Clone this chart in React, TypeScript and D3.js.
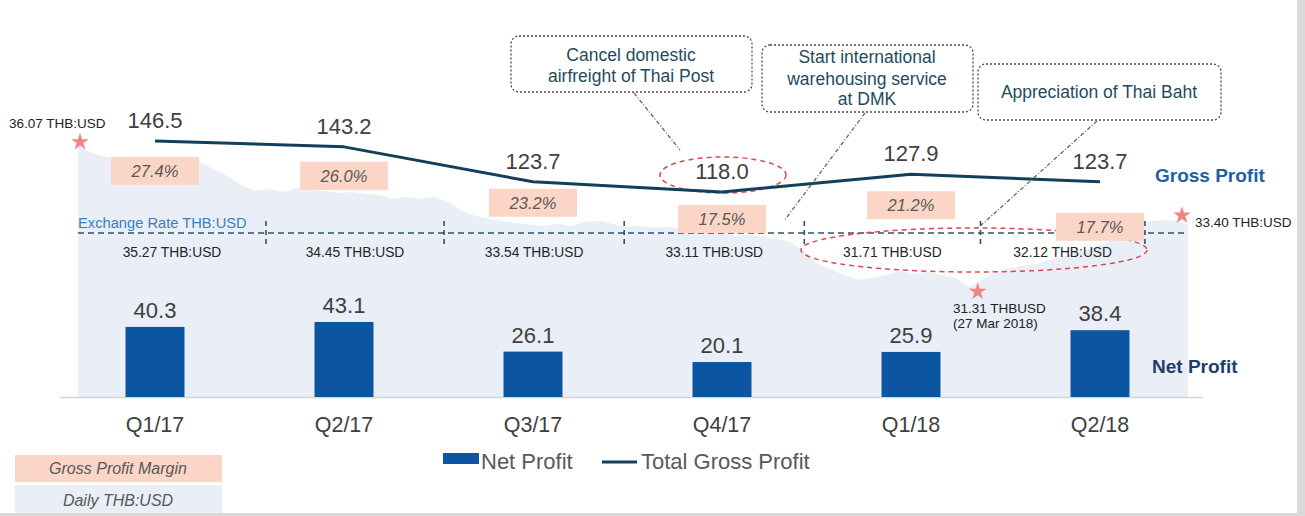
import React from 'react';
import * as d3 from 'd3';

// ---------- DATA ----------
const quarters = ['Q1/17', 'Q2/17', 'Q3/17', 'Q4/17', 'Q1/18', 'Q2/18'];
const netProfit = [40.3, 43.1, 26.1, 20.1, 25.9, 38.4];
const grossProfit = [146.5, 143.2, 123.7, 118.0, 127.9, 123.7];
const grossMargin = ['27.4%', '26.0%', '23.2%', '17.5%', '21.2%', '17.7%'];
const quarterAvgRate = ['35.27 THB:USD', '34.45 THB:USD', '33.54 THB:USD', '33.11 THB:USD', '31.71 THB:USD', '32.12 THB:USD'];

const rateStart = '2016-12-26';
const weeklyRate = [
  36.07, 35.80, 35.67, 35.63, 35.57, 35.63, 35.53, 35.47, 35.57, 35.47,
  35.23, 35.00, 34.69, 34.53, 34.59, 34.49, 34.63, 34.56, 34.53, 34.46,
  34.49, 34.43, 34.39, 34.26, 34.33, 34.26, 34.33, 34.16, 33.86, 33.69,
  33.59, 33.52, 33.45, 33.39, 33.35, 33.42, 33.35, 33.49, 33.52, 33.42,
  33.32, 33.35, 33.29, 33.32, 33.25, 33.18, 33.15, 33.12, 33.02, 33.05,
  32.98, 32.92, 32.81, 32.48, 32.08, 31.88, 31.68, 31.54, 31.61, 31.71,
  31.84, 31.74, 31.81, 31.68, 31.61, 31.31, 31.54, 31.81, 31.94, 32.01,
  32.08, 32.21, 32.34, 32.48, 32.61, 32.78, 33.02, 33.28, 33.49, 33.55,
  33.52, 33.40,
];
const quarterTickDates = ['2017-04-01', '2017-07-01', '2017-10-01', '2018-01-01', '2018-04-01', '2018-06-24'];

const rateMarkDates = ['2016-12-26', '2018-03-27', '2018-07-16'];
const rateMarkValues = [36.07, 31.31, 33.40];
const rateMarkLabels = [['36.07 THB:USD'], ['31.31 THBUSD', '(27 Mar 2018)'], ['33.40 THB:USD']];

const annotationTexts = [
  ['Cancel domestic', 'airfreight of Thai Post'],
  ['Start international', 'warehousing service', 'at DMK'],
  ['Appreciation of Thai Baht'],
];

const legendItems = ['Net Profit', 'Total Gross Profit'];
const sideLegend = ['Gross Profit Margin', 'Daily THB:USD'];

// ---------- LAYOUT ----------
const W = 1305;
const H = 516;
const FONT = '"Liberation Sans", Arial, Helvetica, sans-serif';
const BASE_Y = 397;

const C = {
  area: '#e9eef7',
  bar: '#0b55a3',
  line: '#123f5c',
  marginBox: '#fbd5c5',
  marginText: '#595959',
  value: '#404040',
  rateLine: '#2d5468',
  rateLabel: '#3d7ebf',
  star: '#f08585',
  ellipse: '#e0474c',
  annBorder: '#4a4a4a',
  annText: '#1f4b5e',
  connector: '#666666',
};

const marginBoxDy = [16, 15, 7, 13, 17, 31];
const rateMarkStarOffset = [[2, -3], [7, 5], [-6, -9]];
const rateMarkLabelPos = [[9, 128, 'start'], [953, 313, 'start'], [1195, 227, 'start']];

const annotationLayout = [
  { x: 511, y: 36, w: 241, h: 56, cx: 631, base: [61, 82], from: [634, 93], to: [680, 150] },
  { x: 762, y: 45, w: 211, h: 67, cx: 867, base: [63, 85, 105], from: [865, 113], to: [784, 221] },
  { x: 978, y: 64, w: 243, h: 56, cx: 1099, base: [98], from: [1097, 121], to: [978, 228] },
];

export default function App() {
  const parse = d3.timeParse('%Y-%m-%d');

  // category scale
  const x = d3.scaleBand<string>().domain(quarters).range([60.5, 1194.5]).paddingInner(0.688).paddingOuter(0.344);
  const cx = (q: string) => (x(q) as number) + x.bandwidth() / 2;

  const yBar = d3.scaleLinear().domain([0, 50]).range([BASE_Y, BASE_Y - 87]);
  const yGross = d3.scaleLinear().domain([100, 150]).range([224.2, 134.7]);

  // exchange-rate series
  const start = parse(rateStart) as Date;
  const rateSeries = weeklyRate.map((v, i) => ({ date: d3.timeWeek.offset(start, i), v }));
  const xRate = d3.scaleTime()
    .domain([rateSeries[0].date, rateSeries[rateSeries.length - 1].date])
    .range([78, 1188]);
  const yRate = d3.scaleLinear().domain([27.6, 36.07]).range([BASE_Y, 145]);

  const areaPath = d3.area<{ date: Date; v: number }>()
    .x((d) => xRate(d.date))
    .y0(BASE_Y)
    .y1((d) => yRate(d.v))
    .curve(d3.curveLinear)(rateSeries) as string;

  const grossLine = d3.line<number>()
    .x((_, i) => cx(quarters[i]))
    .y((d) => yGross(d))(grossProfit) as string;

  const tickXs = quarterTickDates.map((s) => xRate(parse(s) as Date));
  const bounds = [xRate.range()[0], ...tickXs];
  const rateLineY = 233;

  const starPath = d3.symbol().type(d3.symbolStar).size(95)() as string;

  return (
    <svg width={W} height={H} style={{ position: 'absolute', left: 0, top: 0, background: '#fff' }} fontFamily={FONT}>
      <rect x={0} y={0} width={W} height={H} fill="#ffffff" />

      {/* daily exchange rate area */}
      <path d={areaPath} fill={C.area} />

      {/* baseline */}
      <line x1={60} x2={1203} y1={BASE_Y + 0.5} y2={BASE_Y + 0.5} stroke="#d4d4d4" strokeWidth={1.5} />

      {/* exchange rate dashed line */}
      <line x1={78} x2={1188} y1={rateLineY} y2={rateLineY} stroke={C.rateLine} strokeWidth={1.6} strokeDasharray="6,4" />
      {tickXs.map((tx, i) => (
        <line key={'tk' + i} x1={tx} x2={tx} y1={221} y2={246} stroke={C.rateLine} strokeWidth={1.6} strokeDasharray="5,4" />
      ))}
      <text x={78} y={228} fontSize={14.7} fill={C.rateLabel}>Exchange Rate THB:USD</text>
      {quarterAvgRate.map((t, i) => (
        <text key={'qr' + i} x={(bounds[i] + bounds[i + 1]) / 2} y={257} fontSize={13.8} fill="#262626" textAnchor="middle">{t}</text>
      ))}

      {/* red dashed ellipses */}
      <ellipse cx={723} cy={175} rx={63} ry={18} fill="none" stroke={C.ellipse} strokeWidth={1.5} strokeDasharray="5,4" />
      <ellipse cx={974} cy={250} rx={173} ry={22} fill="none" stroke={C.ellipse} strokeWidth={1.5} strokeDasharray="5,4" />

      {/* bars */}
      {netProfit.map((v, i) => (
        <g key={'b' + i}>
          <rect x={x(quarters[i])} y={yBar(v)} width={x.bandwidth()} height={BASE_Y - yBar(v)} fill={C.bar} />
          <text x={cx(quarters[i])} y={yBar(v) - 9} fontSize={22} fill={C.value} textAnchor="middle">{v.toFixed(1)}</text>
        </g>
      ))}

      {/* gross profit line */}
      <path d={grossLine} fill="none" stroke={C.line} strokeWidth={3} strokeLinejoin="round" />
      {grossProfit.map((v, i) => (
        <text key={'g' + i} x={cx(quarters[i])} y={yGross(v) - 13} fontSize={22} fill={C.value} textAnchor="middle">{v.toFixed(1)}</text>
      ))}

      {/* gross margin boxes */}
      {grossMargin.map((t, i) => {
        const top = yGross(grossProfit[i]) + marginBoxDy[i];
        const c = cx(quarters[i]);
        return (
          <g key={'m' + i}>
            <rect x={c - 44} y={top} width={88} height={28} fill={C.marginBox} />
            <text x={c} y={top + 20} fontSize={16.5} fontStyle="italic" fill={C.marginText} textAnchor="middle">{t}</text>
          </g>
        );
      })}

      {/* rate markers */}
      {rateMarkDates.map((s, i) => {
        const px = xRate(parse(s) as Date) + rateMarkStarOffset[i][0];
        const py = yRate(rateMarkValues[i]) + rateMarkStarOffset[i][1];
        const [lx, ly, anchor] = rateMarkLabelPos[i] as [number, number, string];
        return (
          <g key={'rm' + i}>
            <path d={starPath} transform={`translate(${px},${py})`} fill={C.star} />
            {rateMarkLabels[i].map((l, j) => (
              <text key={j} x={lx} y={ly + j * 15} fontSize={13.5} fill="#222" textAnchor={anchor as any}>{l}</text>
            ))}
          </g>
        );
      })}

      {/* annotations */}
      {annotationTexts.map((lines, i) => {
        const a = annotationLayout[i];
        return (
          <g key={'a' + i}>
            <line x1={a.from[0]} y1={a.from[1]} x2={a.to[0]} y2={a.to[1]} stroke={C.connector} strokeWidth={1.3} strokeDasharray="4,2,1,2" />
            <rect x={a.x} y={a.y} width={a.w} height={a.h} rx={8} ry={8} fill="#fff" stroke={C.annBorder} strokeWidth={1.3} strokeDasharray="2,2" />
            {lines.map((l, j) => (
              <text key={j} x={a.cx} y={a.base[j]} fontSize={17.5} fill={C.annText} textAnchor="middle">{l}</text>
            ))}
          </g>
        );
      })}

      {/* right series labels */}
      <text x={1155} y={182} fontSize={19} fontWeight="bold" fill="#1f5fa6">Gross Profit</text>
      <text x={1152} y={373} fontSize={19} fontWeight="bold" fill="#1d3f6e">Net Profit</text>

      {/* x axis labels */}
      {quarters.map((q) => (
        <text key={q} x={cx(q)} y={432} fontSize={21.5} fill={C.value} textAnchor="middle">{q}</text>
      ))}

      {/* legend */}
      <rect x={443} y={453} width={36} height={11} fill={C.bar} />
      <text x={481} y={469} fontSize={22} fill="#595959">{legendItems[0]}</text>
      <line x1={602} x2={637} y1={462} y2={462} stroke={C.line} strokeWidth={3} />
      <text x={641} y={469} fontSize={22} fill="#595959">{legendItems[1]}</text>

      {/* side legend boxes */}
      <rect x={15} y={455} width={207} height={27} fill={C.marginBox} />
      <text x={118} y={474} fontSize={16} fontStyle="italic" fill={C.marginText} textAnchor="middle">{sideLegend[0]}</text>
      <rect x={15} y={485} width={207} height={28} fill={C.area} />
      <text x={118} y={506} fontSize={16} fontStyle="italic" fill={C.marginText} textAnchor="middle">{sideLegend[1]}</text>

      {/* frame strips */}
      <rect x={1297} y={0} width={8} height={H} fill="#d9d9d9" />
      <rect x={0} y={513} width={W} height={3} fill="#d9d9d9" />
    </svg>
  );
}
